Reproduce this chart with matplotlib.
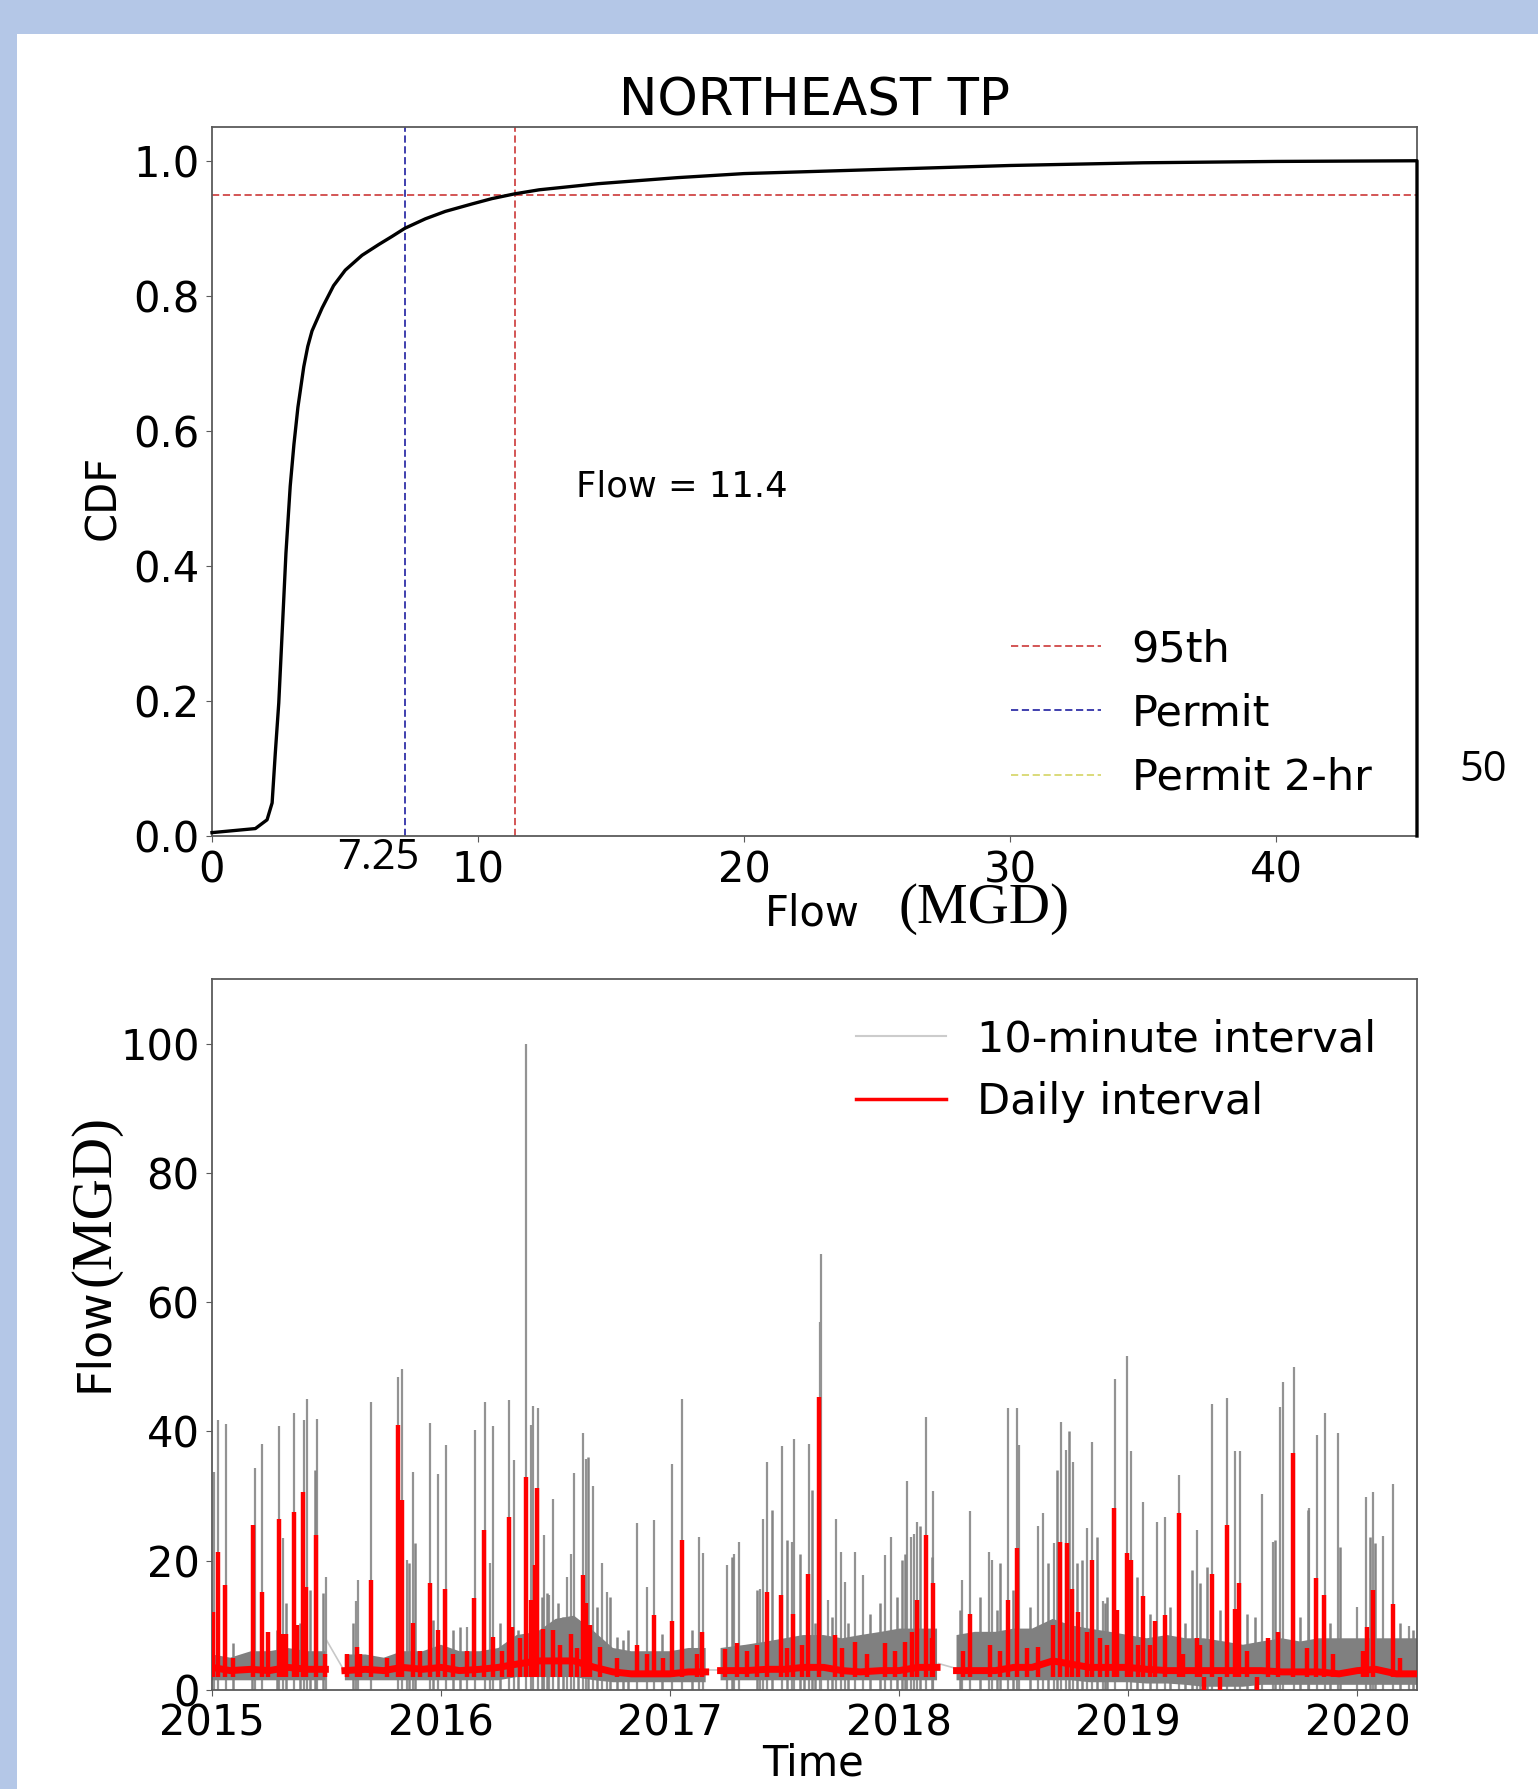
import numpy as np
import matplotlib.pyplot as plt
from matplotlib.lines import Line2D
from matplotlib.patches import Rectangle

# ---- top panel: CDF of flow
cdf_flow = [0.0, 1.63, 2.07, 2.26, 2.38, 2.51, 2.66, 2.78, 2.94, 3.08, 3.23, 3.45, 3.6,
            3.76, 4.14, 4.57, 5.01, 5.64, 6.27, 6.77, 7.25, 8.02, 8.77, 9.77, 10.53, 11.38,
            12.3, 14.5, 17.5, 20, 25, 30, 35, 40, 45.3, 45.3]
cdf_prob = [0.005, 0.011, 0.024, 0.049, 0.123, 0.197, 0.32, 0.419, 0.518, 0.58, 0.635,
            0.695, 0.725, 0.748, 0.782, 0.815, 0.838, 0.86, 0.876, 0.888, 0.90, 0.914,
            0.925, 0.936, 0.944, 0.951, 0.957, 0.966, 0.975, 0.981, 0.987, 0.993, 0.997,
            0.999, 1.0, 0.0]
permit = 7.25
flow95 = 11.4
p95 = 0.95

# ---- bottom panel: monthly band of the 10-minute record (nan = missing data)
month_t = [2015.00, 2015.08, 2015.17, 2015.25, 2015.33, 2015.42, 2015.495, 2015.50, 2015.58,
           2015.67, 2015.75, 2015.83, 2015.92, 2016.00, 2016.08, 2016.17, 2016.25, 2016.33,
           2016.42, 2016.50, 2016.58, 2016.67, 2016.75, 2016.83, 2016.92, 2017.00, 2017.08,
           2017.155, 2017.16, 2017.22, 2017.33, 2017.42, 2017.50, 2017.58, 2017.67, 2017.75,
           2017.83, 2017.92, 2018.00, 2018.08, 2018.165, 2018.17, 2018.25, 2018.33, 2018.42,
           2018.50, 2018.58, 2018.67, 2018.75, 2018.83, 2018.92, 2019.00, 2019.08, 2019.17,
           2019.25, 2019.33, 2019.42, 2019.50, 2019.58, 2019.67, 2019.75, 2019.83, 2019.92,
           2020.00, 2020.08, 2020.17, 2020.26]
band_lo = [1.5, 1.5, 1.5, 1.5, 1.5, 1.5, 1.5, np.nan, 1.5,
           1.5, 1.5, 1.5, 1.5, 1.5, 1.5, 1.5, 1.5, 2.0,
           2.0, 2.0, 2.0, 1.5, 1.2, 1.2, 1.2, 1.2, 1.2,
           1.2, np.nan, 1.5, 1.5, 1.5, 1.5, 1.5, 1.5, 1.5,
           1.5, 1.5, 1.5, 1.5, 1.5, np.nan, 1.5, 1.5, 1.5,
           1.5, 1.5, 1.5, 1.5, 1.2, 1.2, 1.2, 1.0, 1.0,
           0.8, 0.5, 0.5, 0.5, 0.8, 0.8, 0.8, 0.8, 0.8,
           0.8, 0.8, 0.8, 0.8]
band_hi = [5.5, 5.0, 6.0, 6.0, 6.5, 6.0, 6.0, np.nan, 5.5,
           5.5, 5.0, 6.0, 6.0, 7.0, 6.0, 6.0, 6.5, 8.5,
           9.0, 11.0, 11.5, 9.0, 6.5, 6.0, 6.0, 6.0, 6.5,
           6.5, np.nan, 6.5, 7.0, 7.5, 8.0, 8.5, 8.5, 8.0,
           8.5, 9.0, 9.5, 9.5, 9.5, np.nan, 8.5, 9.0, 9.0,
           9.5, 9.5, 11.0, 10.0, 9.5, 9.0, 8.5, 8.0, 8.5,
           8.0, 8.0, 7.5, 7.0, 7.5, 8.0, 7.5, 8.0, 8.0,
           8.0, 8.0, 8.0, 8.0]
daily_base = [3.5, 3.0, 3.2, 3.0, 3.5, 3.2, 3.2, np.nan, 3.0,
              3.2, 3.0, 3.5, 3.2, 3.5, 3.0, 3.2, 3.5, 4.0,
              4.5, 4.5, 4.5, 3.5, 2.8, 2.5, 2.5, 2.5, 2.8,
              2.8, np.nan, 3.0, 3.0, 3.2, 3.2, 3.5, 3.5, 3.0,
              2.8, 3.0, 3.0, 3.5, 3.5, np.nan, 3.0, 3.0, 3.0,
              3.5, 3.5, 4.5, 4.0, 3.5, 3.5, 3.5, 3.2, 3.0,
              3.0, 3.0, 3.0, 3.0, 3.0, 2.8, 2.8, 2.8, 2.5,
              3.0, 3.2, 2.5, 2.5]

# the 10-minute line bridging the three outages (start, end of each gap)
gap_t = [2015.50, 2015.58, np.nan, 2017.162, 2017.22, np.nan, 2018.171, 2018.251]
gap_v = [7.7, 2.8, np.nan, 3.1, 3.1, np.nan, 4.1, 3.3]

# 10-minute storm peaks
spike_t = [2015.009, 2015.028, 2015.061, 2015.188, 2015.217, 2015.294, 2015.312, 2015.359,
           2015.40, 2015.413, 2015.457, 2015.496, 2015.627, 2015.638, 2015.694, 2015.81,
           2015.828, 2015.85, 2015.879, 2015.951, 2015.988, 2016.02, 2016.112, 2016.148,
           2016.19, 2016.212, 2016.228, 2016.298, 2016.318, 2016.371, 2016.391, 2016.402,
           2016.424, 2016.45, 2016.472, 2016.49, 2016.548, 2016.565, 2016.58, 2016.621,
           2016.633, 2016.661, 2016.701, 2016.723, 2016.854, 2016.897, 2016.93, 2017.006,
           2017.05, 2017.126, 2017.145, 2017.246, 2017.278, 2017.30, 2017.392, 2017.407,
           2017.421, 2017.486, 2017.53, 2017.542, 2017.606, 2017.655, 2017.659, 2017.691,
           2017.724, 2017.746, 2017.761, 2017.807, 2017.84, 2017.938, 2017.963, 2018.035,
           2018.051, 2018.064, 2018.079, 2018.117, 2018.149, 2018.275, 2018.309, 2018.393,
           2018.405, 2018.475, 2018.516, 2018.523, 2018.607, 2018.629, 2018.676, 2018.706,
           2018.728, 2018.757, 2018.818, 2018.842, 2018.889, 2018.941, 2018.992, 2019.011,
           2019.065, 2019.123, 2019.161, 2019.222, 2019.301, 2019.363, 2019.429, 2019.464,
           2019.487, 2019.585, 2019.63, 2019.662, 2019.673, 2019.724, 2019.79, 2019.822,
           2019.86, 2019.913, 2019.999, 2020.036, 2020.066, 2020.113, 2020.156, 2020.226]
spike_v = [33.8, 41.8, 41.1, 34.3, 38.0, 40.8, 23.5, 42.8,
           41.8, 45.0, 42.0, 17.5, 13.7, 17.0, 44.6, 48.5,
           49.6, 20.1, 33.8, 41.3, 33.4, 37.9, 9.8, 40.3,
           44.6, 19.6, 40.8, 44.9, 35.6, 100.0, 41.0, 43.9,
           43.7, 24.0, 14.7, 29.6, 17.5, 21.1, 33.6, 39.7,
           35.8, 31.5, 19.6, 15.2, 25.8, 16.0, 26.3, 35.0,
           45.0, 23.6, 21.2, 19.3, 21.0, 22.9, 15.7, 26.5,
           35.2, 37.7, 22.9, 38.9, 38.0, 57.0, 67.5, 13.9,
           26.5, 21.4, 16.7, 21.4, 17.8, 20.9, 23.7, 32.3,
           23.7, 24.1, 26.0, 42.3, 30.8, 17.0, 27.7, 21.4,
           20.1, 43.7, 43.6, 37.9, 25.3, 27.4, 22.7, 41.5,
           37.2, 35.3, 25.0, 38.3, 13.7, 48.1, 51.7, 36.9,
           29.1, 26.0, 26.8, 33.3, 24.7, 44.3, 45.1, 36.9,
           36.9, 30.3, 22.9, 43.8, 47.6, 50.0, 28.1, 39.5,
           42.8, 39.7, 12.9, 29.8, 30.7, 23.8, 31.9, 9.9]

# smaller 10-minute bursts
minor_t = [2015.093, 2015.173, 2015.282, 2015.323, 2015.384, 2015.428, 2015.45, 2015.486,
           2015.617, 2015.861, 2015.886, 2015.966, 2016.053, 2016.082, 2016.257, 2016.337,
           2016.439, 2016.461, 2016.512, 2016.533, 2016.599, 2016.643, 2016.679, 2016.737,
           2016.766, 2016.795, 2016.817, 2016.963, 2017.094, 2017.268, 2017.377, 2017.443,
           2017.508, 2017.567, 2017.617, 2017.582, 2017.632, 2017.705, 2017.778, 2017.873,
           2017.916, 2017.989, 2018.011, 2018.025, 2018.091, 2018.142, 2018.265, 2018.353,
           2018.425, 2018.44, 2018.498, 2018.571, 2018.651, 2018.687, 2018.743, 2018.775,
           2018.796, 2018.862, 2018.906, 2018.898, 2019.036, 2019.094, 2019.182, 2019.247,
           2019.276, 2019.312, 2019.342, 2019.40, 2019.516, 2019.553, 2019.64, 2019.749,
           2019.785, 2019.88, 2019.924, 2020.054, 2020.076, 2020.185, 2020.244]
minor_v = [7.2, 19.0, 9.3, 13.4, 10.3, 15.5, 34.0, 15.0,
           10.3, 19.6, 22.7, 10.8, 9.3, 9.8, 10.3, 9.3,
           14.4, 15.0, 13.4, 11.3, 10.8, 36.0, 12.9, 14.4,
           8.2, 7.7, 9.3, 8.7, 9.3, 20.6, 15.5, 27.8,
           23.2, 21.1, 31.0, 7.7, 10.3, 11.3, 10.3, 11.8,
           13.4, 14.4, 20.1, 21.1, 25.3, 20.6, 12.4, 14.4,
           12.4, 19.6, 15.5, 12.9, 19.6, 34.0, 40.0, 19.6,
           20.1, 23.7, 14.4, 13.4, 17.5, 11.8, 12.9, 10.3,
           18.5, 16.5, 19.1, 12.4, 11.8, 11.3, 23.2, 11.3,
           27.8, 10.3, 22.2, 23.7, 22.7, 10.3, 9.3]

# daily-average peaks (negative = sensor dips)
peak_t = [2015.005, 2015.028, 2015.057, 2015.18, 2015.217, 2015.292, 2015.31, 2015.359,
          2015.398, 2015.41, 2015.454, 2015.493, 2015.632, 2015.693, 2015.813, 2015.828,
          2015.879, 2015.951, 2015.988, 2016.017, 2016.144, 2016.189, 2016.227, 2016.296,
          2016.308, 2016.370, 2016.391, 2016.41, 2016.42, 2016.49, 2016.565, 2016.621,
          2016.633, 2016.694, 2016.854, 2016.93, 2017.006, 2017.05, 2017.14, 2017.24,
          2017.293, 2017.421, 2017.483, 2017.537, 2017.603, 2017.651, 2017.72, 2017.808,
          2017.938, 2018.025, 2018.076, 2018.116, 2018.149, 2018.309, 2018.396, 2018.473,
          2018.516, 2018.607, 2018.702, 2018.731, 2018.753, 2018.84, 2018.939, 2018.949,
          2018.992, 2019.01, 2019.065, 2019.116, 2019.16, 2019.222, 2019.298, 2019.33,
          2019.363, 2019.40, 2019.429, 2019.465, 2019.484, 2019.56, 2019.652, 2019.717,
          2019.819, 2019.855, 2020.04, 2020.066, 2020.156]
peak_v = [12.0, 21.4, 16.2, 25.5, 15.2, 26.5, 8.7, 27.6,
          30.7, 16.0, 24.0, 5.6, 6.7, 17.0, 41.0, 29.4,
          10.3, 16.5, 9.3, 15.7, 14.2, 24.7, 8.2, 26.8,
          9.8, 33.0, 14.0, 19.3, 31.2, 9.3, 8.7, 17.8,
          13.4, 6.7, 6.9, 11.6, 10.6, 23.2, 9.0, 6.4,
          7.2, 15.2, 14.7, 11.8, 18.0, 45.4, 8.5, 7.5,
          7.2, 7.5, 13.9, 24.0, 16.5, 11.8, 6.9, 14.0,
          21.9, 6.7, 22.9, 22.7, 15.7, 20.1, 28.1, 12.4,
          21.2, 20.1, 14.6, 10.6, 11.6, 27.4, 8.0, -3.0,
          18.0, -3.0, 25.6, 12.6, 16.5, -2.0, 9.0, 36.7,
          17.3, 14.7, 9.8, 15.4, 13.3]

# small daily bumps
bump_t = [2015.093, 2015.246, 2015.322, 2015.37, 2015.588, 2015.646, 2015.762, 2015.908,
          2016.053, 2016.112, 2016.264, 2016.344, 2016.446, 2016.519, 2016.592, 2016.65,
          2016.766, 2016.897, 2016.97, 2017.115, 2017.334, 2017.377, 2017.508, 2017.574,
          2017.749, 2017.858, 2017.981, 2018.054, 2018.142, 2018.28, 2018.44, 2018.556,
          2018.673, 2018.782, 2018.818, 2018.876, 2018.905, 2019.043, 2019.094, 2019.24,
          2019.312, 2019.516, 2019.611, 2019.778, 2019.895, 2020.026, 2020.185]
bump_v = [5.0, 9.0, 8.7, 10.0, 5.5, 5.5, 5.0, 6.0,
          5.5, 6.0, 6.0, 8.0, 9.5, 7.0, 6.5, 10.0,
          5.0, 5.5, 5.0, 5.5, 6.0, 7.0, 6.5, 7.0,
          6.5, 5.5, 6.0, 9.0, 8.0, 6.0, 6.0, 6.5,
          10.0, 12.0, 9.0, 8.0, 7.0, 7.0, 7.0, 5.5,
          7.0, 6.0, 8.0, 6.5, 5.5, 6.0, 5.0]

year_ticks = [2015, 2016, 2017, 2018, 2019, 2020]

W, H = 1538, 1789
fig = plt.figure(figsize=(W / 100, H / 100), dpi=100, facecolor='#b4c7e7')
fig.add_artist(Rectangle((17 / W, 0), 1, 1 - 34 / H, transform=fig.transFigure,
                         facecolor='white', edgecolor='none', zorder=0))

spine_col = '#5a5a5a'

# ---------------- top: CDF
ax1 = fig.add_axes([212 / W, 1 - 836 / H, (1417 - 212) / W, (836 - 127) / H])
ax1.plot(cdf_flow, cdf_prob, color='black', lw=2.4, clip_on=False, zorder=4)
ax1.axhline(p95, color='#d04848', ls='--', lw=1.3, dashes=(4, 2))
ax1.axvline(flow95, color='#d04848', ls='--', lw=1.3, dashes=(4, 2))
ax1.axvline(permit, color='#3030a8', ls='--', lw=1.3, dashes=(4, 2))
ax1.set_xlim(0, 45.3)
ax1.set_ylim(0, 1.05)
ax1.set_xticks([0, 10, 20, 30, 40])
ax1.set_yticks([0.0, 0.2, 0.4, 0.6, 0.8, 1.0])
ax1.tick_params(labelsize=30, length=4, color=spine_col, pad=5)
ax1.tick_params(axis='x', pad=6)
for s in ax1.spines.values():
    s.set_color(spine_col)
    s.set_linewidth(1.3)
ax1.set_title('NORTHEAST TP', fontsize=37, pad=8)
ax1.text(13.7, 0.517, 'Flow = 11.4', fontsize=25.5, ha='left', va='center')

leg_handles = [Line2D([], [], color='#d04848', ls='--', lw=1.3, dashes=(4, 2)),
               Line2D([], [], color='#3030a8', ls='--', lw=1.3, dashes=(4, 2)),
               Line2D([], [], color='#d8d870', ls='--', lw=1.3, dashes=(4, 2))]
ax1.legend(leg_handles, ['95th', 'Permit', 'Permit 2-hr'], loc='upper left',
           bbox_to_anchor=(1011 / W, 1 - 628 / H), bbox_transform=fig.transFigure,
           frameon=False, fontsize=31, borderpad=0, borderaxespad=0,
           handlelength=2.1, handletextpad=0.7, labelspacing=0.52)

fig.text(378 / W, 1 - 858 / H, '7.25', fontsize=30, family='Open Sans', ha='center', va='center')
fig.text(1483 / W, 1 - 770 / H, '50', fontsize=30, family='Open Sans', ha='center', va='center')
fig.text(103 / W, 1 - 497 / H, 'CDF', fontsize=30, rotation=90, ha='center', va='center')
fig.text(812 / W, 1 - 913 / H, 'Flow', fontsize=30, ha='center', va='center')
fig.text(984 / W, 1 - 909 / H, '(MGD)', fontsize=41, family='Liberation Serif',
         ha='center', va='center')

# ---------------- bottom: time series
ax2 = fig.add_axes([212 / W, 1 - 1690 / H, (1417 - 212) / W, (1690 - 979) / H])
ax2.plot(gap_t, gap_v, color='#c8c8c8', lw=1.2, zorder=1)
ax2.vlines(spike_t, 0, spike_v, color='#939393', lw=1.6, zorder=1)
ax2.vlines(minor_t, 0, minor_v, color='#858585', lw=1.8, zorder=1)
ax2.fill_between(month_t, band_lo, band_hi, color='#808080', lw=0, zorder=2)
ax2.plot(month_t, daily_base, color='red', lw=5.0, zorder=3)
ax2.vlines(peak_t, 2, peak_v, color='red', lw=3.2, zorder=3)
ax2.vlines(bump_t, 2, bump_v, color='red', lw=3.2, zorder=3)
ax2.set_xlim(2015.0, 2020.26)
ax2.set_ylim(0, 110)
ax2.set_xticks(year_ticks)
ax2.set_xticklabels([str(y) for y in year_ticks])
ax2.set_yticks([0, 20, 40, 60, 80, 100])
ax2.tick_params(labelsize=30, length=4, color=spine_col, pad=5)
for s in ax2.spines.values():
    s.set_color(spine_col)
    s.set_linewidth(1.3)

leg2 = [Line2D([], [], color='#cccccc', lw=1.5), Line2D([], [], color='red', lw=2.5)]
ax2.legend(leg2, ['10-minute interval', 'Daily interval'], loc='upper left',
           bbox_to_anchor=(856 / W, 1 - 1018 / H), bbox_transform=fig.transFigure,
           frameon=False, fontsize=31, borderpad=0, borderaxespad=0,
           handlelength=2.1, handletextpad=0.7, labelspacing=0.48)

fig.text(813 / W, 1 - 1763 / H, 'Time', fontsize=30, ha='center', va='center')
fig.text(95 / W, 1 - 1340 / H, 'Flow', fontsize=33, rotation=90, ha='center', va='center')
fig.text(95 / W, 1 - 1201 / H, '(MGD)', fontsize=41, family='Liberation Serif',
         rotation=90, ha='center', va='center')

fig.savefig('out.png', dpi=100, facecolor=fig.get_facecolor())
